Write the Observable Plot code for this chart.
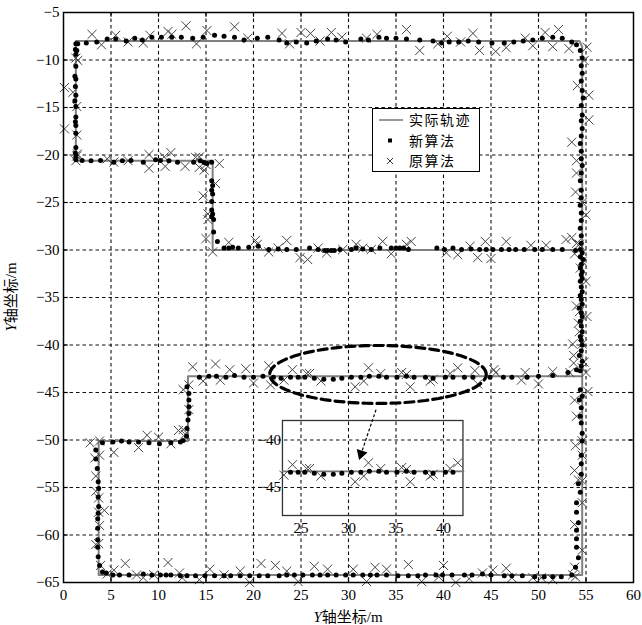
<!DOCTYPE html>
<html><head><meta charset="utf-8">
<script src="https://cdn.jsdelivr.net/npm/d3@7"></script>
<script src="https://cdn.jsdelivr.net/npm/@observablehq/plot@0.6"></script>
<style>body{margin:0;background:#fff}</style>
</head><body><div id="chart"></div>
<script>
// ---- ticks ----
const xTicks = [0,5,10,15,20,25,30,35,40,45,50,55,60];
const yTicks = [-65,-60,-55,-50,-45,-40,-35,-30,-25,-20,-15,-10,-5];
const insetXTicks = [25,30,35,40];
const insetYTicks = [-40,-45];
const axisTitle = ["Y", "轴坐标", "/m"];
const legendLabels = ["实际轨迹", "新算法", "原算法"];

// ---- actual trajectory (实际轨迹) ----
const pathX = [1.3, 54.3, 54.6, 54.6, 3.7, 3.7, 13.1, 13.1, 54.6, 54.6, 15.7, 15.7, 1.3, 1.3];
const pathY = [-8, -8, -8.6, -64.2, -64.2, -50.1, -50.1, -43.3, -43.3, -30, -30, -20.6, -20.6, -8];

// ---- 新算法 (new algorithm) estimates, by segment ----
const newTop = [[1.4,-9.0],[1.5,-8.3],[2.4,-8.2],[3.5,-8.1],[4.6,-7.8],[5.5,-7.8],[6.6,-8.0],[7.5,-7.7],[8.3,-7.9],[9.3,-7.6],[10.3,-7.6],[11.4,-7.6],[12.4,-7.6],[13.6,-7.7],[14.7,-7.6],[15.9,-7.4],[16.9,-7.5],[18.0,-7.6],[19.0,-7.9],[20.4,-7.7],[21.5,-7.6],[22.7,-7.9],[23.5,-8.2],[24.5,-8.1],[25.6,-8.2],[26.6,-8.0],[27.8,-7.8],[28.7,-7.9],[29.7,-8.1],[31.3,-7.8],[32.1,-7.9],[33.2,-7.6],[34.0,-7.7],[35.0,-7.7],[36.1,-7.8],[37.5,-7.9],[38.9,-8.0],[39.8,-8.2],[40.6,-8.1],[41.6,-8.1],[42.6,-8.0],[43.7,-8.1],[45.1,-8.2],[46.4,-8.2],[47.4,-8.1],[48.4,-8.0],[49.4,-7.9],[50.4,-7.7],[51.5,-7.6],[52.5,-7.7],[53.5,-8.1],[54.0,-8.4],[54.4,-9.0]];
const newRight1 = [[54.6,-9.8],[54.5,-10.6],[54.6,-11.4],[54.5,-12.2],[54.6,-13.2],[54.7,-14.0],[54.5,-14.8],[54.6,-15.8],[54.5,-16.4],[54.6,-17.2],[54.5,-18.0],[54.4,-18.8],[54.5,-19.6],[54.5,-20.4],[54.6,-21.1],[54.5,-21.9],[54.4,-22.7],[54.5,-23.7],[54.5,-24.5],[54.4,-25.3],[54.5,-26.1],[54.5,-26.9],[54.4,-27.7],[54.5,-28.5],[54.5,-29.3]];
const newRight2 = [[54.6,-30.3],[54.4,-30.7],[54.7,-31.0],[54.5,-31.5],[54.4,-31.9],[54.6,-32.3],[54.5,-32.6],[54.6,-33.0],[54.4,-33.3],[54.5,-33.9],[54.6,-34.4],[54.4,-34.8],[54.5,-35.2],[54.6,-35.7],[54.3,-36.1],[54.5,-36.6],[54.6,-37.0],[54.4,-37.5],[54.5,-38.0],[54.6,-38.6],[54.4,-39.1],[54.5,-39.5],[54.6,-40.0],[54.5,-40.6],[54.3,-41.1],[54.6,-41.7],[54.5,-42.2],[54.4,-42.7]];
const newLeft = [[1.3,-8.3],[1.25,-8.9],[1.3,-9.4],[1.3,-10.65],[1.2,-11.7],[1.3,-12.0],[1.25,-12.8],[1.3,-13.7],[1.2,-14.3],[1.3,-14.9],[1.3,-16.0],[1.25,-16.5],[1.3,-16.9],[1.3,-17.7],[1.3,-19.2],[1.25,-19.8],[1.3,-20.1]];
const newLine20 = [[1.3,-20.5],[1.96,-20.58],[2.9,-20.6],[3.9,-20.58],[5.3,-20.75],[6.2,-20.6],[7.1,-20.58],[8.4,-20.75],[9.7,-20.5],[10.2,-20.58],[11.1,-20.6],[12.0,-20.75],[13.7,-20.75],[14.4,-20.6],[14.8,-20.8],[15.1,-20.9],[15.6,-20.75]];
const newStep16 = [[15.6,-22.7],[15.7,-23.2],[15.6,-23.7],[15.7,-24.1],[15.6,-24.9],[15.6,-25.8],[15.7,-26.2],[15.6,-26.5],[15.8,-26.8],[15.8,-28.1],[16.2,-29.1]];
const newLine30 = [[16.9,-29.8],[17.4,-29.8],[17.8,-29.7],[18.4,-29.8],[19.5,-29.7],[20.5,-29.6],[21.6,-29.95],[22.6,-29.9],[23.5,-29.95],[24.5,-29.95],[25.9,-29.8],[26.8,-29.95],[27.5,-30.05],[27.8,-30.05],[28.2,-30.05],[28.5,-30.05],[29.1,-29.95],[30.3,-29.95],[30.8,-29.8],[31.5,-29.9],[32.4,-29.95],[33.3,-29.8],[34.5,-29.8],[35.0,-29.8],[35.4,-29.8],[35.8,-29.8],[36.3,-29.95],[39.3,-29.8],[40.1,-29.95],[41.0,-29.8],[41.9,-29.95],[42.9,-29.9],[43.8,-29.95],[44.5,-29.95],[45.2,-29.95],[46.1,-29.95],[46.9,-29.95],[47.6,-29.95],[48.5,-29.95],[49.6,-29.95],[50.4,-29.95],[51.5,-29.95],[52.5,-29.95],[53.9,-30.05],[54.4,-29.95]];
const newStep13 = [[13.0,-44.4],[13.2,-45.1],[13.2,-45.8],[13.2,-46.5],[13.2,-47.2],[13.1,-47.9],[13.0,-48.8],[12.95,-49.6]];
const newLine43 = [[14.3,-43.4],[15.3,-43.3],[16.1,-43.3],[17.1,-43.4],[18.0,-43.2],[19.0,-43.4],[20.0,-43.4],[21.0,-43.3],[22.1,-43.4],[22.9,-43.5],[23.9,-43.4],[24.7,-43.4],[25.4,-43.4],[26.4,-43.5],[27.4,-43.6],[28.4,-43.6],[29.3,-43.5],[30.3,-43.4],[31.3,-43.4],[32.2,-43.3],[33.2,-43.3],[34.0,-43.4],[35.1,-43.4],[36.1,-43.3],[36.9,-43.4],[38.1,-43.4],[38.9,-43.5],[40.2,-43.4],[41.0,-43.4],[42.2,-43.4],[43.1,-43.4],[44.9,-43.4],[46.3,-43.4],[47.2,-43.4],[48.8,-43.4],[50.0,-43.3],[51.5,-43.2],[53.1,-42.9],[54.0,-42.6]];
const newRight3 = [[54.4,-44.7],[54.6,-45.4],[54.3,-45.8],[54.5,-46.6],[54.4,-47.5],[54.5,-48.2],[54.6,-49.3],[54.6,-50.1],[54.5,-51.6],[54.5,-52.5],[54.5,-53.6],[54.2,-54.6],[54.4,-55.5],[54.0,-56.6],[54.0,-57.6],[54.2,-58.7],[54.0,-59.5],[54.0,-60.4],[54.0,-61.3],[54.2,-62.4],[53.9,-63.4]];
const newBottom = [[53.5,-64.2],[52.4,-64.4],[51.5,-64.4],[50.6,-64.4],[49.6,-64.4],[48.3,-64.3],[47.2,-64.3],[46.4,-64.3],[45.0,-64.2],[44.1,-64.1],[43.0,-64.2],[42.2,-64.2],[40.9,-64.2],[39.9,-64.2],[39.2,-64.2],[38.1,-64.2],[37.3,-64.3],[36.3,-64.3],[35.2,-64.3],[34.0,-64.2],[33.0,-64.2],[32.3,-64.2],[31.5,-64.2],[30.5,-64.2],[29.7,-64.2],[28.7,-64.2],[27.8,-64.2],[27.0,-64.2],[26.2,-64.2],[25.2,-64.2],[24.3,-64.2],[23.5,-64.2],[22.7,-64.3],[21.5,-64.3],[20.6,-64.3],[19.6,-64.3],[18.6,-64.3],[17.6,-64.3],[16.9,-64.3],[15.9,-64.3],[14.9,-64.3],[13.9,-64.3],[13.0,-64.3],[12.3,-64.3],[11.3,-64.2],[10.8,-64.2],[10.2,-64.2],[9.3,-64.2],[8.4,-64.1],[6.9,-64.2],[5.9,-64.2],[5.2,-64.2],[4.5,-64.0],[4.1,-63.9],[3.8,-63.2]];
const newLeft2 = [[3.65,-62.3],[3.6,-61.3],[3.6,-60.5],[3.6,-59.3],[3.6,-58.3],[3.65,-57.7],[3.7,-57.0],[3.65,-56.0],[3.7,-55.1],[3.65,-54.4],[3.55,-53.0],[3.4,-52.0],[3.4,-51.05]];
const newLine50 = [[4.1,-50.3],[5.2,-50.2],[6.1,-50.1],[6.9,-50.2],[7.9,-50.2],[9.0,-50.3],[10.1,-50.4],[11.3,-50.3],[12.3,-50.2],[12.6,-50.05]];

// ---- 原算法 (original algorithm) estimates, by segment ----
const oldTop = [[1.3,-9.8],[3.0,-7.3],[4.0,-8.4],[5.5,-7.4],[6.8,-8.1],[8.4,-8.2],[9.1,-7.4],[11.0,-7.0],[11.4,-7.3],[12.9,-6.4],[14.0,-8.3],[15.1,-6.9],[18.0,-6.5],[19.4,-7.7],[23.0,-7.2],[23.8,-8.3],[25.0,-7.1],[26.0,-7.2],[27.0,-8.0],[28.2,-7.1],[29.3,-7.6],[31.9,-7.7],[33.0,-7.3],[36.1,-6.8],[37.5,-9.0],[39.4,-8.3],[40.4,-7.5],[41.8,-8.1],[43.1,-7.2],[43.8,-9.0],[45.5,-9.1],[46.6,-8.7],[48.6,-7.7],[49.4,-8.5],[50.7,-7.1],[52.1,-6.8],[51.5,-8.6],[53.2,-8.8],[55.1,-8.65]];
const oldLeft = [[1.5,-10.05],[0.1,-12.9],[1.0,-13.4],[1.4,-14.9],[0.1,-17.25],[1.4,-17.9],[1.4,-20.1],[1.3,-20.6]];
const oldLine20 = [[1.45,-19.9],[4.6,-20.4],[5.3,-20.75],[6.8,-20.6],[9.0,-19.95],[9.0,-21.4],[10.6,-20.2],[10.7,-21.2],[11.3,-19.75],[12.8,-21.2],[13.9,-20.25],[14.3,-20.2],[14.3,-21.3],[14.8,-21.6],[15.0,-21.0],[16.4,-20.9]];
const oldStep16 = [[16.0,-23.0],[14.7,-24.3],[15.2,-26.2],[15.2,-26.8],[15.0,-28.8],[15.7,-30.2]];
const oldLine30 = [[17.4,-29.2],[20.2,-29.0],[20.4,-29.4],[21.6,-30.2],[22.6,-29.8],[23.5,-29.0],[24.9,-30.8],[25.7,-31.0],[26.8,-29.8],[27.7,-30.3],[29.4,-29.95],[30.8,-29.4],[31.5,-29.8],[32.4,-29.95],[33.6,-29.1],[34.5,-30.4],[36.1,-29.4],[36.6,-29.1],[40.3,-30.3],[41.5,-30.5],[42.8,-29.6],[43.6,-30.8],[44.4,-29.1],[45.0,-30.9],[46.6,-29.1],[49.2,-29.5],[50.8,-29.5],[52.9,-28.9],[53.8,-30.4],[54.3,-29.4]];
const oldRight1 = [[54.8,-10.05],[54.1,-12.7],[55.3,-13.7],[55.3,-16.3],[53.5,-18.65],[54.0,-20.6],[54.0,-21.9],[53.9,-23.9],[54.6,-25.0],[55.0,-26.3],[53.5,-28.7],[54.0,-29.3]];
const oldRight2 = [[54.6,-31.2],[54.4,-31.9],[55.0,-33.3],[54.0,-35.9],[54.3,-36.5],[55.1,-37.0],[54.2,-37.7],[54.3,-38.6],[54.6,-39.9],[53.6,-39.9],[53.7,-41.1],[54.8,-41.8],[55.0,-42.9]];
const oldLine43 = [[12.6,-44.7],[13.2,-44.2],[13.6,-42.3],[14.7,-43.8],[16.0,-42.0],[16.5,-43.7],[17.5,-42.6],[19.2,-42.5],[20.0,-44.0],[21.6,-42.2],[21.8,-44.2],[23.2,-43.7],[24.1,-42.6],[25.6,-43.0],[25.9,-43.0],[27.1,-43.8],[30.7,-44.4],[31.6,-43.8],[32.1,-42.4],[33.4,-43.0],[35.6,-42.9],[36.1,-43.1],[36.5,-44.4],[38.6,-43.8],[38.9,-43.6],[40.7,-43.0],[41.5,-42.4],[43.3,-42.7],[43.6,-44.1],[45.3,-42.6],[45.5,-42.9],[48.2,-43.7],[48.6,-42.9],[50.0,-44.1],[51.5,-42.8],[53.3,-42.9],[53.7,-41.9],[54.6,-42.4]];
const oldStep13 = [[13.2,-46.8],[12.6,-48.9],[12.1,-49.0],[12.8,-49.4]];
const oldLine50 = [[2.8,-50.3],[3.8,-50.1],[5.3,-51.3],[7.9,-50.8],[8.8,-49.5],[10.0,-49.7],[11.3,-50.4]];
const oldLeft2 = [[3.3,-51.9],[3.8,-51.6],[3.4,-53.8],[3.4,-55.4],[3.7,-56.1],[3.7,-57.6],[4.3,-57.4],[3.8,-59.0],[3.4,-61.0],[3.7,-60.9],[3.9,-63.2]];
const oldBottom = [[4.6,-64.1],[5.3,-63.7],[6.5,-63.0],[7.7,-64.2],[8.4,-64.5],[9.5,-64.2],[11.0,-62.9],[12.2,-64.0],[12.5,-64.5],[14.3,-64.7],[15.4,-63.6],[16.9,-64.2],[18.6,-63.8],[19.6,-65.0],[20.8,-63.0],[22.3,-63.2],[23.5,-63.8],[24.7,-64.9],[26.4,-63.3],[27.8,-63.6],[30.5,-63.6],[31.9,-64.9],[32.8,-63.4],[34.0,-63.6],[36.3,-63.1],[37.7,-64.9],[39.5,-64.4],[40.0,-63.2],[41.3,-65.0],[42.7,-64.6],[44.1,-64.0],[45.2,-63.7],[46.6,-63.5],[47.2,-64.5],[49.4,-64.5],[50.3,-64.5],[51.5,-64.7],[53.6,-64.2],[53.9,-64.4]];
const oldRight3 = [[55.2,-44.9],[53.8,-45.8],[54.0,-47.5],[53.9,-50.6],[54.6,-50.1],[54.6,-51.6],[53.8,-53.2],[54.2,-54.2],[54.6,-54.3],[54.6,-56.6],[53.8,-58.9],[54.6,-61.6],[53.8,-63.4]];

// ---- annotations ----
const insetBox = {x1: 23.1, x2: 42.1, y1: -58, y2: -48};
const insetShift = -10;
const ellipseSpec = {cx: 33.1, cy: -43.1, rx: 11.4, ry: 3.05};
const arrowSpec = {x1: 32.9, y1: -46.8, x2: 31.45, y2: -51.1, hx: 31.33, hy: -51.45};

// ---- derived ----
const newPts = [].concat(newTop,newRight1,newRight2,newLeft,newLine20,newStep16,newLine30,newStep13,newLine43,newRight3,newBottom,newLeft2,newLine50);
const oldPts = [].concat(oldTop,oldLeft,oldLine20,oldStep16,oldLine30,oldRight1,oldRight2,oldLine43,oldStep13,oldLine50,oldLeft2,oldBottom,oldRight3);
const path = pathX.map((x,i)=>[x,pathY[i]]);
const inInset = p => p[0] >= insetBox.x1 && p[0] <= insetBox.x2;
const insetNew = newLine43.filter(inInset).map(p=>[p[0], p[1]+insetShift]);
const insetOld = oldLine43.filter(inInset).map(p=>[p[0], p[1]+insetShift]);
const insetLine = [[insetBox.x1, pathY[7]+insetShift],[insetBox.x2, pathY[7]+insetShift]];
const ellipse = d3.range(0, 361, 4).map(a => [ellipseSpec.cx + ellipseSpec.rx*Math.cos(a*Math.PI/180), ellipseSpec.cy + ellipseSpec.ry*Math.sin(a*Math.PI/180)]);
const xInner = xTicks.slice(1,-1), yInner = yTicks.slice(1,-1);
const fmt = d3.format("");
const minus = d => fmt(d).replace("-", "\u2212");

const px = d => d[0], py = d => d[1];
const serif = "'Liberation Serif', 'Times New Roman', serif";
const cjk = "'Noto Sans CJK SC', sans-serif";

const chart = Plot.plot({
  width: 642, height: 625,
  marginLeft: 63, marginRight: 9, marginTop: 12, marginBottom: 43,
  x: {domain: [0, 60]},
  y: {domain: [-65, -5]},
  style: {fontFamily: serif, fontSize: "15px", background: "#fff", color: "#000"},
  marks: [
    Plot.gridX(xInner, {stroke: "#111", strokeOpacity: 1, strokeWidth: 1.1, strokeDasharray: "3.5,3"}),
    Plot.gridY(yInner, {stroke: "#111", strokeOpacity: 1, strokeWidth: 1.1, strokeDasharray: "3.5,3"}),
    Plot.ruleX(xInner, {x: d => d, y1: -65, y2: -64.5, stroke: "#000", strokeWidth: 1.2}),
    Plot.ruleX(xInner, {x: d => d, y1: -5, y2: -5.5, stroke: "#000", strokeWidth: 1.2}),
    Plot.ruleY(yInner, {y: d => d, x1: 0, x2: 0.5, stroke: "#000", strokeWidth: 1.2}),
    Plot.ruleY(yInner, {y: d => d, x1: 60, x2: 59.5, stroke: "#000", strokeWidth: 1.2}),
    Plot.axisX(xTicks, {tickSize: 0, tickPadding: 7, fontSize: 15, label: null, tickFormat: minus}),
    Plot.axisY(yTicks, {tickSize: 0, tickPadding: 4, fontSize: 15, label: null, tickFormat: minus}),
    // inset box and its axes
    Plot.rect([insetBox], {x1: "x1", x2: "x2", y1: "y1", y2: "y2", fill: "none", stroke: "#333", strokeWidth: 1.3}),
    Plot.text(insetYTicks, {x: insetBox.x1, y: d => d + insetShift, text: minus, textAnchor: "end", dx: -2, fontSize: 15}),
    Plot.text(insetXTicks, {x: d => d, y: insetBox.y1, text: minus, dy: 12, fontSize: 15}),
    Plot.line(insetLine, {x: px, y: py, stroke: "#777", strokeWidth: 1.8}),
    Plot.dot(insetOld, {x: px, y: py, symbol: "times", r: 4.2, stroke: "#444", strokeWidth: 1}),
    Plot.dot(insetNew, {x: px, y: py, r: 2.5, fill: "#000", stroke: "none"}),
    // trajectory
    Plot.line(path, {x: px, y: py, stroke: "#808080", strokeWidth: 2}),
    Plot.dot(oldPts, {x: px, y: py, symbol: "times", r: 4.2, stroke: "#444", strokeWidth: 1}),
    Plot.dot(newPts, {x: px, y: py, r: 2.5, fill: "#000", stroke: "none"}),
    // ellipse and arrow
    Plot.line(ellipse, {x: px, y: py, stroke: "#000", strokeWidth: 3.2, strokeDasharray: "9,5"}),
    Plot.link([arrowSpec], {x1: "x1", y1: "y1", x2: "x2", y2: "y2", stroke: "#000", strokeWidth: 1.2, strokeDasharray: "3,2"}),
    Plot.dot([arrowSpec], {x: "hx", y: "hy", symbol: "triangle", r: 4.2, fill: "#000", stroke: "none", rotate: 198}),
    Plot.frame({stroke: "#000", strokeWidth: 1.5})
  ]
});

const host = document.getElementById("chart");
host.appendChild(chart);
const svg = d3.select(chart);

function axisLabel(g) {
  g.append("tspan").attr("font-family", serif).attr("font-style", "italic").text(axisTitle[0]);
  g.append("tspan").attr("font-family", cjk).text(axisTitle[1]);
  g.append("tspan").attr("font-family", serif).text(axisTitle[2]);
}
const xl = svg.append("text").attr("x", 348).attr("y", 622).attr("text-anchor", "middle").attr("font-size", 15).attr("fill", "#000");
axisLabel(xl);
const yl = svg.append("text").attr("transform", "translate(16,297) rotate(-90)").attr("text-anchor", "middle").attr("font-size", 15).attr("fill", "#000");
axisLabel(yl);

// legend
const lg = svg.append("g").attr("text-anchor", "start");
lg.append("rect").attr("x", 372.5).attr("y", 108.5).attr("width", 107).attr("height", 63).attr("fill", "#fff").attr("stroke", "#000").attr("stroke-width", 1);
const rows = [120, 140.5, 161];
lg.append("line").attr("x1", 379).attr("x2", 403).attr("y1", rows[0]).attr("y2", rows[0]).attr("stroke", "#808080").attr("stroke-width", 1.6);
lg.append("rect").attr("x", 388).attr("y", rows[1]-2).attr("width", 4).attr("height", 4).attr("fill", "#000");
lg.append("path").attr("d", `M387,${rows[2]-3}L393,${rows[2]+3}M393,${rows[2]-3}L387,${rows[2]+3}`).attr("stroke", "#333").attr("stroke-width", 1);
legendLabels.forEach((t, i) => {
  lg.append("text").attr("x", 409).attr("y", rows[i]).attr("dy", "0.36em").attr("text-anchor", "start")
    .attr("font-family", cjk).attr("font-size", 14).attr("letter-spacing", 1.5).attr("fill", "#000").text(t);
});
</script>
</body></html>
